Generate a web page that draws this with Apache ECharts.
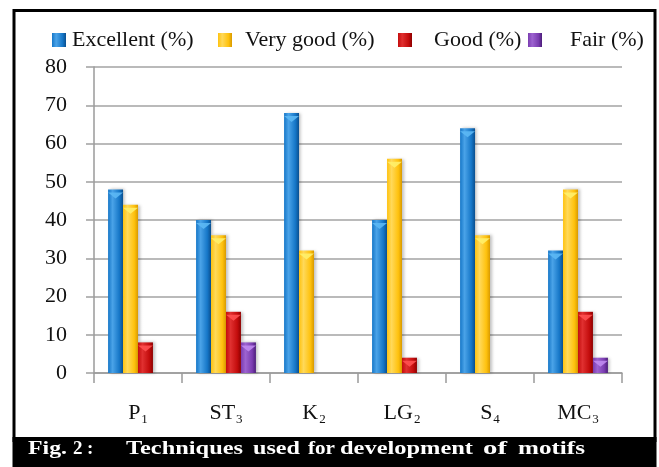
<!DOCTYPE html>
<html>
<head>
<meta charset="utf-8">
<script src="https://cdn.jsdelivr.net/npm/echarts@6/dist/echarts.min.js"></script>
<style>
  html, body { margin: 0; padding: 0; background: #ffffff; }
  #chart { width: 659px; height: 467px; }
</style>
</head>
<body>
<div id="chart"></div>
<script>
// Motif development techniques: share of ratings per technique
const categories = ['P1', 'ST3', 'K2', 'LG2', 'S4', 'MC3'];
const seriesNames = ['Excellent (%)', 'Very good (%)', 'Good (%)', 'Fair (%)'];
const excellent = [48, 40, 68, 40, 64, 32];
const veryGood = [44, 36, 32, 56, 36, 48];
const good = [8, 16, null, 4, null, 16];
const fair = [null, 8, null, null, null, 4];
const yTicks = [0, 10, 20, 30, 40, 50, 60, 70, 80];
const captionLead = 'Fig. 2 :';
const captionText = 'Techniques used for development of motifs';

const values = [excellent, veryGood, good, fair];
const serif = '"Liberation Serif", "Times New Roman", serif';

// body / highlight / edge tones for each series
const palette = [
  { dark: '#0a4f8f', mid: '#1677c8', light: '#4aa3e8', cap: '#5cb8f4' },
  { dark: '#d99a00', mid: '#ffc20e', light: '#ffd95a', cap: '#fff06a' },
  { dark: '#8e0000', mid: '#c40d0d', light: '#e03030', cap: '#ff5050' },
  { dark: '#4c1d7a', mid: '#7a3cb0', light: '#9d63d0', cap: '#c08af0' }
];

function barFill(p) {
  return new echarts.graphic.LinearGradient(0, 0, 1, 0, [
    { offset: 0, color: p.mid },
    { offset: 0.3, color: p.light },
    { offset: 0.75, color: p.mid },
    { offset: 1, color: p.dark }
  ]);
}

const barCategoryGap = '32%';

const barSeries = seriesNames.map((name, i) => ({
  name: name,
  type: 'bar',
  data: values[i],
  barGap: '0%',
  barCategoryGap: barCategoryGap,
  itemStyle: {
    color: barFill(palette[i]),
    shadowColor: 'rgba(0,0,0,0.25)',
    shadowBlur: 3,
    shadowOffsetX: 2
  },
  z: 2
}));

// small downward-pointing caps on top of each bar
const capSeries = seriesNames.map((name, i) => ({
  name: name + ' cap',
  type: 'pictorialBar',
  data: values[i],
  barGap: '0%',
  barCategoryGap: barCategoryGap,
  symbol: 'triangle',
  symbolRotate: 180,
  symbolSize: ['100%', 6],
  symbolPosition: 'end',
  symbolOffset: [0, '50%'],
  itemStyle: { color: palette[i].cap, opacity: 0.9 },
  silent: true,
  z: 3
}));

// legend entries, each placed on its own
const legendSpots = [
  { left: 47, pad: 1 },
  { left: 213, pad: 8 },
  { left: 393, pad: 17 },
  { left: 523, pad: 23 }
];
const legends = seriesNames.map((name, i) => ({
  data: [name],
  left: legendSpots[i].left,
  top: 24,
  itemWidth: 14,
  itemHeight: 14,
  icon: 'rect',
  selectedMode: false,
  textStyle: {
    fontFamily: serif,
    fontSize: 22,
    color: '#111',
    padding: [0, 0, 0, legendSpots[i].pad]
  }
}));

// caption words spread across the black strip, each stretched to its slot
const captionFont = 'bold 19px ' + serif;
const captionWords = [captionLead.split(' '), captionText.split(' ')].flat();
const captionSlots = [[28, 67], [73, 82], [87, 91], [126, 243], [253, 300],
                      [308, 335], [340, 473], [483, 507], [518, 585]];
const measureCtx = document.createElement('canvas').getContext('2d');
measureCtx.font = captionFont;
const captionGraphics = captionWords.map((w, i) => {
  const natural = measureCtx.measureText(w).width || 1;
  const target = captionSlots[i][1] - captionSlots[i][0];
  return {
    type: 'text',
    x: captionSlots[i][0],
    y: 449,
    scaleX: Math.max(1, target / natural),
    style: {
      x: 0, y: 0,
      text: w,
      fill: '#ffffff',
      font: captionFont,
      textVerticalAlign: 'middle'
    },
    z: 20
  };
});

const chart = echarts.init(document.getElementById('chart'), null, { renderer: 'canvas' });

chart.setOption({
  animation: false,
  backgroundColor: '#ffffff',
  legend: legends,
  grid: { left: 94, right: 37, top: 67, bottom: 94 },
  xAxis: {
    type: 'category',
    data: categories,
    axisLine: { show: true, lineStyle: { color: '#9a9a9a', width: 1.5 } },
    axisTick: { show: true, length: 10, lineStyle: { color: '#9a9a9a', width: 1.5 } },
    axisLabel: {
      interval: 0,
      margin: 27,
      formatter: function (v) {
        const m = v.match(/^([A-Z]+)(\d+)$/);
        return '{main|' + m[1] + '}{sub|' + m[2] + '}';
      },
      rich: {
        main: { fontFamily: serif, fontSize: 22, color: '#111', lineHeight: 26, verticalAlign: 'middle' },
        sub: { fontFamily: serif, fontSize: 13, color: '#111', lineHeight: 13, verticalAlign: 'bottom', padding: [0, 0, 0, 1] }
      }
    }
  },
  yAxis: {
    type: 'value',
    min: yTicks[0],
    max: yTicks[yTicks.length - 1],
    interval: yTicks[1] - yTicks[0],
    axisLine: { show: true, lineStyle: { color: '#9a9a9a', width: 1.5 } },
    axisTick: { show: true, length: 8, lineStyle: { color: '#a0a0a0', width: 1.5 } },
    splitLine: { show: true, lineStyle: { color: '#a3a3a3', width: 1.5 } },
    axisLabel: {
      margin: 27,
      fontFamily: serif,
      fontSize: 22,
      color: '#111'
    }
  },
  series: barSeries.concat(capSeries),
  graphic: [
    {
      type: 'rect',
      shape: { x: 14, y: 10.5, width: 641, height: 430 },
      style: { fill: 'none', stroke: '#000', lineWidth: 3 },
      z: 10
    },
    {
      type: 'rect',
      shape: { x: 12.5, y: 437, width: 644, height: 30 },
      style: { fill: '#000' },
      z: 11
    }
  ].concat(captionGraphics)
});
</script>
</body>
</html>
